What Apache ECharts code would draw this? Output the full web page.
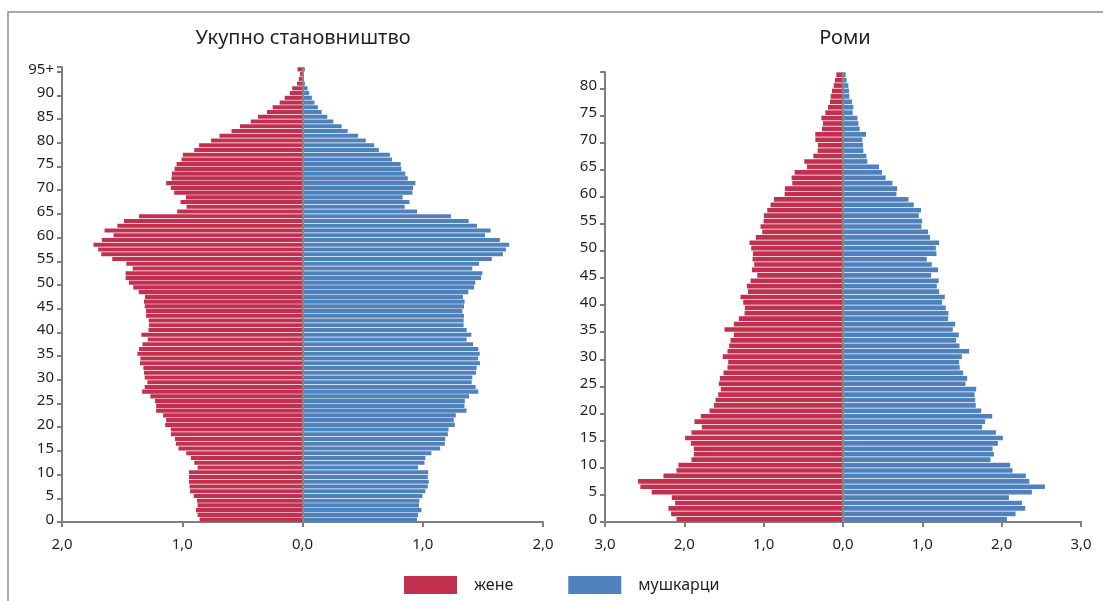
<!DOCTYPE html>
<html>
<head>
<meta charset="utf-8">
<script src="https://cdn.jsdelivr.net/npm/echarts@6/dist/echarts.min.js"></script>
<style>
  html, body { margin: 0; padding: 0; background: #fff; }
  #chart { width: 1103px; height: 601px; }
</style>
</head>
<body>
<div id="chart"></div>
<script>
// узрасти (категорије)
const totalAges = Array.from({ length: 95 }, (_, i) => String(i)).concat(["95+"]);
const romaAges = Array.from({ length: 83 }, (_, i) => String(i));

// Укупно становништво, % по узрасту 0..95+
const totalF = [
  0.855, 0.872, 0.886, 0.872, 0.877, 0.905, 0.936, 0.939, 0.944, 0.944,
  0.944, 0.872, 0.900, 0.928, 0.967, 1.031, 1.053, 1.061, 1.095, 1.095,
  1.142, 1.134, 1.159, 1.217, 1.217, 1.226, 1.265, 1.334, 1.312, 1.290,
  1.312, 1.318, 1.323, 1.351, 1.348, 1.373, 1.359, 1.331, 1.287, 1.340,
  1.281, 1.276, 1.279, 1.301, 1.301, 1.312, 1.318, 1.309, 1.362, 1.407,
  1.443, 1.471, 1.471, 1.412, 1.465, 1.582, 1.674, 1.699, 1.738, 1.669,
  1.571, 1.646, 1.540, 1.485, 1.359, 1.042, 0.964, 1.014, 0.969, 1.067,
  1.095, 1.134, 1.089, 1.086, 1.064, 1.047, 1.006, 0.995, 0.900, 0.860,
  0.760, 0.690, 0.590, 0.520, 0.430, 0.370, 0.295, 0.248, 0.190, 0.148,
  0.106, 0.086, 0.045, 0.030, 0.020, 0.042
];
const totalM = [
  0.953, 0.961, 0.989, 0.969, 0.972, 0.997, 1.022, 1.042, 1.050, 1.042,
  1.045, 0.961, 1.014, 1.022, 1.072, 1.145, 1.184, 1.187, 1.209, 1.214,
  1.267, 1.258, 1.275, 1.364, 1.347, 1.350, 1.385, 1.462, 1.440, 1.407,
  1.412, 1.443, 1.448, 1.476, 1.460, 1.474, 1.462, 1.418, 1.365, 1.404,
  1.365, 1.340, 1.340, 1.343, 1.329, 1.343, 1.348, 1.334, 1.379, 1.426,
  1.437, 1.485, 1.496, 1.412, 1.468, 1.574, 1.666, 1.691, 1.719, 1.641,
  1.518, 1.565, 1.451, 1.382, 1.234, 0.953, 0.850, 0.889, 0.833, 0.914,
  0.919, 0.939, 0.875, 0.855, 0.822, 0.816, 0.744, 0.727, 0.635, 0.596,
  0.526, 0.462, 0.376, 0.326, 0.256, 0.206, 0.159, 0.128, 0.100, 0.078,
  0.056, 0.042, 0.020, 0.010, 0.010, 0.020
];

// Роми, % по узрасту 0..82
const romaF = [
  2.099, 2.167, 2.200, 2.116, 2.158, 2.411, 2.554, 2.583, 2.263, 2.099,
  2.074, 1.910, 1.881, 1.881, 1.918, 1.990, 1.910, 1.780, 1.872, 1.792,
  1.683, 1.628, 1.607, 1.573, 1.540, 1.565, 1.552, 1.506, 1.456, 1.447,
  1.515, 1.456, 1.435, 1.418, 1.376, 1.494, 1.376, 1.313, 1.241, 1.237,
  1.258, 1.292, 1.199, 1.212, 1.165, 1.081, 1.148, 1.119, 1.140, 1.136,
  1.157, 1.178, 1.098, 1.018, 1.039, 1.001, 0.997, 0.955, 0.913, 0.871,
  0.736, 0.732, 0.639, 0.648, 0.610, 0.454, 0.488, 0.374, 0.320, 0.316,
  0.349, 0.349, 0.265, 0.252, 0.273, 0.223, 0.189, 0.164, 0.156, 0.139,
  0.118, 0.101, 0.084
];
const romaM = [
  2.066, 2.175, 2.297, 2.255, 2.091, 2.381, 2.545, 2.348, 2.305, 2.137,
  2.108, 1.859, 1.902, 1.885, 1.952, 2.015, 1.927, 1.754, 1.792, 1.881,
  1.742, 1.674, 1.666, 1.658, 1.679, 1.544, 1.565, 1.515, 1.472, 1.464,
  1.498, 1.590, 1.468, 1.426, 1.460, 1.384, 1.414, 1.325, 1.329, 1.296,
  1.249, 1.283, 1.212, 1.182, 1.207, 1.111, 1.199, 1.119, 1.056, 1.178,
  1.170, 1.212, 1.098, 1.073, 0.989, 0.997, 0.955, 0.984, 0.892, 0.825,
  0.673, 0.682, 0.623, 0.538, 0.492, 0.454, 0.307, 0.294, 0.257, 0.252,
  0.244, 0.290, 0.210, 0.194, 0.181, 0.122, 0.130, 0.114, 0.080, 0.076,
  0.067, 0.046, 0.034
];

const RED = "#C1304F";
const BLUE = "#4F81BD";
const AXIS = "#7f7f7f";
const TXT = "#231f20";
const FONT = "Noto Sans";

const fmt = (v) => Math.abs(v).toFixed(1).replace(".", ",");

function xAxisFor(idx, lim) {
  return {
    gridIndex: idx,
    type: "value",
    min: -lim,
    max: lim,
    interval: 1,
    axisLine: { show: true, lineStyle: { color: AXIS, width: 2 } },
    axisTick: { show: true, length: 5, lineStyle: { color: AXIS, width: 2 } },
    splitLine: { show: false },
    axisLabel: { formatter: fmt, color: TXT, fontSize: 15, fontFamily: FONT, margin: 15 },
  };
}

function yAxisFor(idx, cats) {
  return {
    gridIndex: idx,
    type: "category",
    data: cats,
    axisLine: { show: true, onZero: false, lineStyle: { color: AXIS, width: 2 } },
    axisTick: { show: true, interval: 4, length: 5, lineStyle: { color: AXIS, width: 2 } },
    axisLabel: { interval: 4, color: TXT, fontSize: 15, fontFamily: FONT, margin: 8, padding: [5, 0, 0, 0] },
    splitLine: { show: false },
  };
}

// сива средња линија на нули
const zeroLine = {
  silent: true,
  symbol: "none",
  label: { show: false },
  lineStyle: { color: "#888", width: 2, type: "solid" },
  data: [{ xAxis: 0 }],
};

const chart = echarts.init(document.getElementById("chart"));
chart.setOption({
  animation: false,
  backgroundColor: "#fff",
  textStyle: { fontFamily: FONT },
  graphic: [
    { type: "rect", shape: { x: 8, y: 12, width: 1200, height: 700 }, style: { fill: "none", stroke: "#8c8c8c", lineWidth: 1.5 }, silent: true },
    { type: "text", x: 303, y: 38, style: { text: "Укупно становништво", align: "center", verticalAlign: "middle", fontSize: 20, fontFamily: FONT, fill: TXT } },
    { type: "text", x: 845, y: 38, style: { text: "Роми", align: "center", verticalAlign: "middle", fontSize: 20, fontFamily: FONT, fill: TXT } },
  ],
  legend: {
    left: 399,
    top: 571,
    icon: "rect",
    itemWidth: 53,
    itemHeight: 18,
    itemGap: 55,
    selectedMode: false,
    textStyle: { fontSize: 16, color: TXT, fontFamily: FONT, padding: [0, 0, 0, 12] },
    data: ["жене", "мушкарци"],
  },
  grid: [
    { left: 62, top: 67, width: 481, height: 455 },
    { left: 605, top: 72, width: 476, height: 450 },
  ],
  xAxis: [xAxisFor(0, 2), xAxisFor(1, 3)],
  yAxis: [yAxisFor(0, totalAges), yAxisFor(1, romaAges)],
  series: [
    {
      name: "жене", type: "bar", xAxisIndex: 0, yAxisIndex: 0,
      data: totalF.map((v) => -v), itemStyle: { color: RED },
      barGap: "-100%", barCategoryGap: "14%", markLine: zeroLine,
    },
    {
      name: "мушкарци", type: "bar", xAxisIndex: 0, yAxisIndex: 0,
      data: totalM, itemStyle: { color: BLUE },
      barGap: "-100%", barCategoryGap: "14%",
    },
    {
      name: "жене", type: "bar", xAxisIndex: 1, yAxisIndex: 1,
      data: romaF.map((v) => -v), itemStyle: { color: RED },
      barGap: "-100%", barCategoryGap: "14%", markLine: zeroLine,
    },
    {
      name: "мушкарци", type: "bar", xAxisIndex: 1, yAxisIndex: 1,
      data: romaM, itemStyle: { color: BLUE },
      barGap: "-100%", barCategoryGap: "14%",
    },
  ],
});
</script>
</body>
</html>
